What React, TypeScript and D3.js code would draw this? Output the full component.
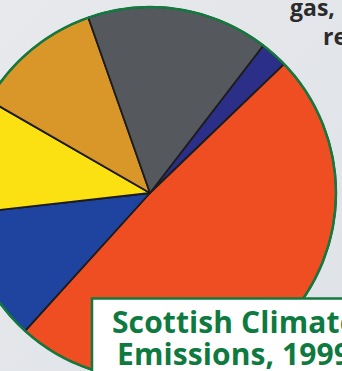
import React from "react";
import * as d3 from "d3";

const categories = ["Other", "Energy supply", "Transport", "Business", "Agriculture", "Land use"];
const values = [2.4, 48.9, 11.5, 10.1, 11.3, 15.8];
const colors = ["#2c2f88", "#ef4e22", "#1e44a0", "#fbe012", "#da9729", "#55595e"];
const titleLines = ["Scottish Climate", "Emissions, 1999"];
const noteLines = ["gas,", "re"];

const W = 342;
const H = 371;

export default function App() {
  const cx = 150;
  const cy = 193;
  const r = 186;
  const start = (37.5 * Math.PI) / 180;
  const pie = d3
    .pie<number>()
    .sort(null)
    .startAngle(start)
    .endAngle(start + 2 * Math.PI)
    .value((d) => d);
  const arcs = pie(values);
  const arc = d3.arc<d3.PieArcDatum<number>>().innerRadius(0).outerRadius(r);

  return (
    <svg
      width={W}
      height={H}
      style={{ position: "absolute", left: 0, top: 0, display: "block" }}
      fontFamily="'Open Sans', 'Noto Sans', sans-serif"
    >
      <defs>
        <linearGradient id="bg" x1="0" y1="0" x2="1" y2="1">
          <stop offset="0" stopColor="#e7e9ec" />
          <stop offset="1" stopColor="#dfe2e7" />
        </linearGradient>
      </defs>
      <rect width={W} height={H} fill="url(#bg)" />
      <g fontWeight="bold" fontSize={23} fill="#2b2b2b">
        <text x={290} y={16}>{noteLines[0]}</text>
        <text x={323} y={45}>{noteLines[1]}</text>
      </g>
      <g transform={`translate(${cx},${cy})`}>
        {arcs.map((a, i) => (
          <path
            key={categories[i]}
            d={arc(a) || ""}
            fill={colors[i]}
            stroke="#1c1c1c"
            strokeWidth={1.8}
            strokeLinejoin="round"
          />
        ))}
        <circle r={r} fill="none" stroke="#127a3e" strokeWidth={2.5} />
      </g>
      <rect x={92} y={298.5} width={270} height={100} fill="#ffffff" stroke="#127a3e" strokeWidth={2.5} />
      <g fontWeight="bold" fontSize={30} fill="#0f7a3f" letterSpacing={0.1}>
        <text x={112} y={333}>{titleLines[0]}</text>
        <text x={117} y={365}>{titleLines[1]}</text>
      </g>
    </svg>
  );
}
